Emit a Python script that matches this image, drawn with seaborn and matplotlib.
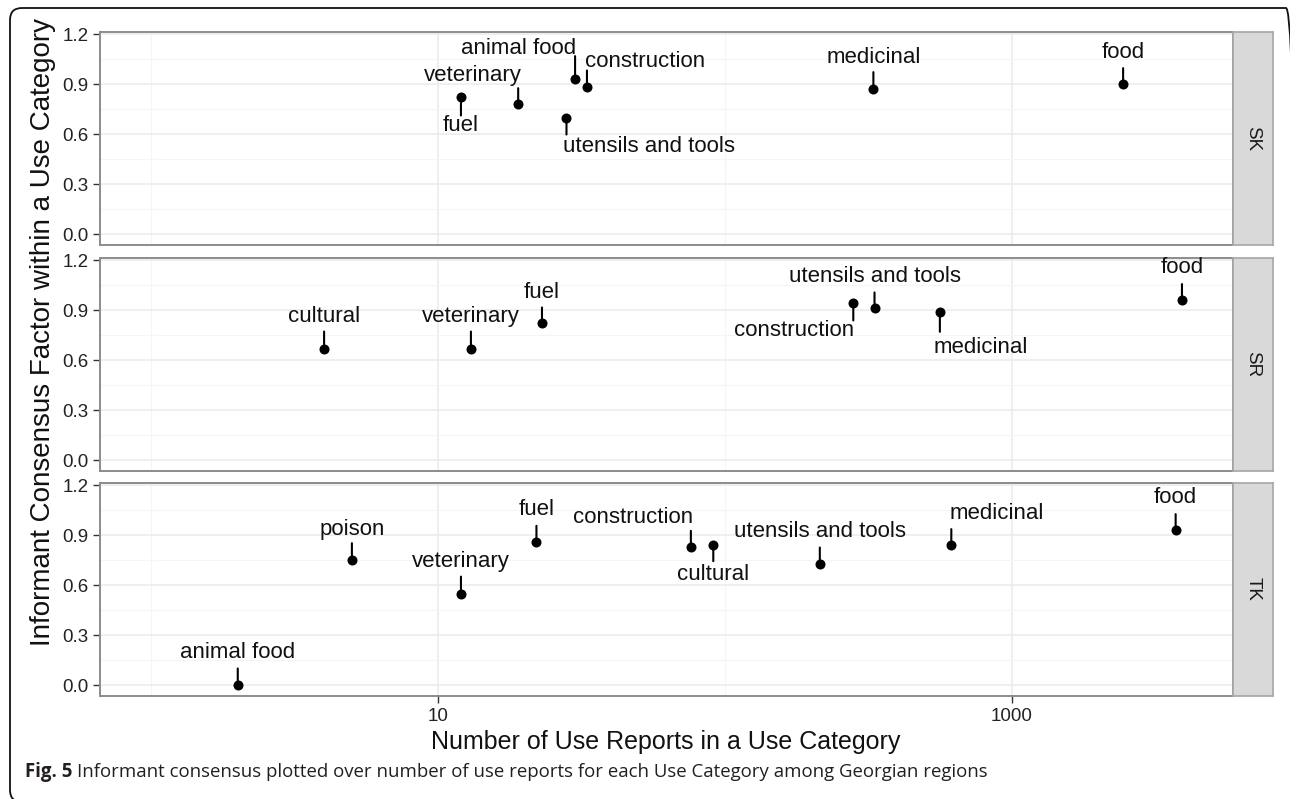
import matplotlib
matplotlib.use("Agg")
import numpy as np
import pandas as pd
import seaborn as sns
import matplotlib.pyplot as plt
from matplotlib.patches import FancyBboxPatch
from matplotlib.transforms import IdentityTransform
from matplotlib.ticker import NullFormatter

# ICF vs number of use reports, one row per Georgian region

sk_categories = ['fuel', 'veterinary', 'utensils and tools', 'animal food', 'construction', 'medicinal', 'food']
sk_reports = [12, 19, 28, 30, 33, 329, 2443]
sk_icf = [0.82, 0.78, 0.70, 0.93, 0.88, 0.87, 0.90]

sr_categories = ['cultural', 'veterinary', 'fuel', 'construction', 'utensils and tools', 'medicinal', 'food']
sr_reports = [4, 13, 23, 280, 332, 561, 3918]
sr_icf = [0.67, 0.67, 0.82, 0.94, 0.91, 0.89, 0.96]

tk_categories = ['animal food', 'poison', 'veterinary', 'fuel', 'construction', 'cultural', 'utensils and tools', 'medicinal', 'food']
tk_reports = [2, 5, 12, 22, 76, 91, 214, 615, 3724]
tk_icf = [0.0, 0.75, 0.55, 0.86, 0.83, 0.84, 0.73, 0.84, 0.93]

regions = ['SK', 'SR', 'TK']

df = pd.concat([
    pd.DataFrame({'region': 'SK', 'category': sk_categories, 'reports': sk_reports, 'icf': sk_icf}),
    pd.DataFrame({'region': 'SR', 'category': sr_categories, 'reports': sr_reports, 'icf': sr_icf}),
    pd.DataFrame({'region': 'TK', 'category': tk_categories, 'reports': tk_reports, 'icf': tk_icf}),
], ignore_index=True)

# label placement in pixels: (text dx, text dy, segment dy), up is positive
label_pos = {
    ('SK', 'fuel'): (0, -28, -18),
    ('SK', 'veterinary'): (-45, 29, 16),
    ('SK', 'animal food'): (-57, 31, 23),
    ('SK', 'construction'): (58, 26, 17),
    ('SK', 'utensils and tools'): (83, -29, -17),
    ('SK', 'medicinal'): (0, 32, 17),
    ('SK', 'food'): (0, 32, 16),
    ('SR', 'cultural'): (0, 32, 17),
    ('SR', 'veterinary'): (0, 32, 17),
    ('SR', 'fuel'): (0, 31, 16),
    ('SR', 'construction'): (-59, -27, -17),
    ('SR', 'utensils and tools'): (0, 32, 16),
    ('SR', 'medicinal'): (41, -36, -20),
    ('SR', 'food'): (0, 33, 16),
    ('TK', 'animal food'): (0, 33, 17),
    ('TK', 'poison'): (0, 31, 17),
    ('TK', 'veterinary'): (0, 32, 17),
    ('TK', 'fuel'): (0, 32, 16),
    ('TK', 'construction'): (-58, 29, 16),
    ('TK', 'cultural'): (0, -29, -16),
    ('TK', 'utensils and tools'): (0, 32, 16),
    ('TK', 'medicinal'): (45, 32, 16),
    ('TK', 'food'): (0, 33, 16),
}

sns.set_theme(style='white')
plt.rcParams['font.family'] = ['Liberation Sans', 'DejaVu Sans']

W, H = 1290, 799
fig = plt.figure(figsize=(W / 100, H / 100), dpi=100)
fig.patch.set_facecolor('white')
PT = 0.72

left, right = 99.5, 1233
tops = [32, 258, 483]
ph = 212.5

for region, top in zip(regions, tops):
    ax = fig.add_axes([left / W, 1 - (top + ph) / H, (right - left) / W, ph / H])
    sub = df[df['region'] == region]

    sns.scatterplot(data=sub, x='reports', y='icf', ax=ax, color='black',
                    s=52, linewidth=0, legend=False, zorder=3)
    ax.set_xlabel('')
    ax.set_ylabel('')

    ax.set_xscale('log')
    ax.set_xticks([10, 1000], labels=['10', '1000'])
    ax.set_xticks([1, 100], minor=True)
    ax.xaxis.set_minor_formatter(NullFormatter())
    yt = [0.0, 0.3, 0.6, 0.9, 1.2]
    ax.set_yticks(yt, labels=[f'{v:.1f}' for v in yt])
    ax.set_yticks([0.15, 0.45, 0.75, 1.05], minor=True)
    ax.set_xlim(10 ** -0.181, 10 ** 3.771)
    ax.set_ylim(-0.06, 1.212)
    ax.grid(which='major', color='#ebebeb', lw=1.1)
    ax.grid(which='minor', color='#f5f5f5', lw=0.8)
    ax.set_axisbelow(True)

    for _, row in sub.iterrows():
        dx, ty, sy = label_pos[(region, row['category'])]
        ax.annotate('', xy=(row['reports'], row['icf']), xytext=(0, sy * PT),
                    textcoords='offset points',
                    arrowprops=dict(arrowstyle='-', lw=1.5, color='black',
                                    shrinkA=0, shrinkB=0), zorder=2)
        ax.annotate(row['category'], xy=(row['reports'], row['icf']),
                    xytext=(dx * PT, ty * PT), textcoords='offset points',
                    ha='center', va='center', fontsize=16, color='#111111')

    for sp in ax.spines.values():
        sp.set_visible(True)
        sp.set_color('#8c8c8c')
        sp.set_linewidth(1.4)
    ax.tick_params(which='minor', length=0)
    ax.tick_params(axis='y', which='major', length=5, width=1, color='#333333',
                   labelsize=13.5, labelcolor='#222222', pad=3, left=True)
    is_bottom = region == 'TK'
    ax.tick_params(axis='x', which='major', length=5 if is_bottom else 0, width=1,
                   color='#333333', labelsize=13.5, labelcolor='#222222', pad=4,
                   labelbottom=is_bottom, bottom=is_bottom)

    sax = fig.add_axes([right / W, 1 - (top + ph) / H, 40 / W, ph / H])
    sax.set_facecolor('#d9d9d9')
    sax.set_xticks([])
    sax.set_yticks([])
    for sp in sax.spines.values():
        sp.set_visible(True)
        sp.set_color('#a6a6a6')
        sp.set_linewidth(1.2)
    sax.text(0.5, 0.5, region, rotation=-90, ha='center', va='center',
             fontsize=13.5, color='#1a1a1a', transform=sax.transAxes)

fig.text(666 / W, 1 - 742 / H, 'Number of Use Reports in a Use Category',
         ha='center', va='center', fontsize=18, color='#111111')
fig.text(43 / W, 1 - 332 / H, 'Informant Consensus Factor within a Use Category',
         ha='center', va='center', rotation=90, fontsize=20, color='#111111')

cap_font = ['Open Sans', 'DejaVu Sans']
t1 = fig.text(25 / W, 1 - 772 / H, 'Fig. 5', ha='left', va='center',
              fontsize=13.4, fontweight='bold', family=cap_font, color='#231f20')
renderer = fig.canvas.get_renderer()
bb = t1.get_window_extent(renderer)
fig.text((bb.x1 + 5) / W, 1 - 772 / H,
         'Informant consensus plotted over number of use reports for each Use Category among Georgian regions',
         ha='left', va='center', fontsize=13.4, family=cap_font, color='#231f20')

frame = FancyBboxPatch((10, -3), 1288, 794, boxstyle='round,pad=0,rounding_size=12',
                       transform=IdentityTransform(), fill=False, edgecolor='#111111', lw=1.3)
fig.patches.append(frame)

fig.savefig('out.png', dpi=100, facecolor='white')
